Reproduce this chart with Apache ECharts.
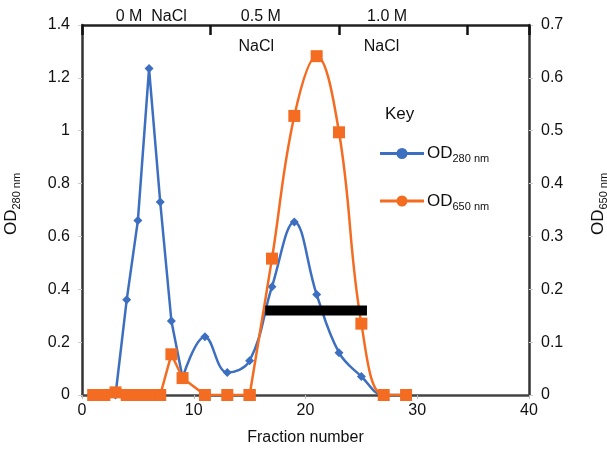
<!DOCTYPE html>
<html>
<head>
<meta charset="utf-8">
<script src="https://cdn.jsdelivr.net/npm/echarts@6/dist/echarts.min.js"></script>
<style>
    html, body { margin: 0; padding: 0; background: #fff; }
    #chart { width: 607px; height: 452px; }
</style>
</head>
<body>
<div id="chart"></div>
<script>
// fraction numbers sampled
var fractions = [1, 2, 3, 4, 5, 6, 7, 8, 9, 11, 13, 15, 17, 19, 21, 23, 25, 27, 29];
// OD 280 nm (left axis)
var od280 = [0, 0, 0, 0.36, 0.66, 1.235, 0.73, 0.28, 0.065, 0.22, 0.085, 0.13, 0.41, 0.655, 0.38, 0.16, 0.07, 0, 0];
// OD 650 nm (right axis)
var od650 = [0, 0, 0.005, 0, 0, 0, 0, 0.077, 0.032, 0, 0, 0, 0.258, 0.528, 0.641, 0.497, 0.135, 0, 0];
// pooled fractions bar
var poolRange = [16.4, 25.5];
var poolLevel = 0.32;
// salt gradient labels along the top
var saltTop = ['0 M  NaCl', '0.5 M', '1.0 M'];
var saltTopPos = [6.2, 16, 27.3];
var saltBottom = ['NaCl', 'NaCl'];
var saltBottomPos = [15.6, 26.8];

var BLUE = '#3d6fc1';
var ORANGE = '#f36c21';
var FONT = 'Liberation Sans';

function pairs(xs, ys, from, to) {
    var out = [];
    for (var i = from; i <= to; i++) out.push([xs[i], ys[i]]);
    return out;
}

var subRich = {
    a: { fontSize: 17, lineHeight: 22, fontFamily: FONT, color: '#111' },
    b: { fontSize: 11, lineHeight: 12, verticalAlign: 'bottom', fontFamily: FONT, color: '#111' }
};
var axisRich = {
    a: { fontSize: 17, lineHeight: 22, fontFamily: FONT, color: '#111' },
    b: { fontSize: 11, lineHeight: 12, verticalAlign: 'bottom', fontFamily: FONT, color: '#111' }
};

var chart = echarts.init(document.getElementById('chart'));

var legendIcon = 'path://M0,4 L44,4 L44,7 L0,7 Z M16.5,5.5 A5.5,5.5 0 1 1 27.5,5.5 A5.5,5.5 0 1 1 16.5,5.5 Z';

var option = {
    animation: false,
    textStyle: { fontFamily: FONT },
    grid: { left: 82, right: 78, top: 25, bottom: 57, outerBoundsMode: 'none', containLabel: false },
    legend: {
        orient: 'vertical',
        left: 375,
        top: 140,
        itemGap: 28,
        itemWidth: 44,
        itemHeight: 11,
        data: [
            { name: 'OD280', icon: legendIcon, itemStyle: { color: BLUE } },
            { name: 'OD650', icon: legendIcon, itemStyle: { color: ORANGE } }
        ],
        formatter: function (name) {
            return '{a|OD}{b|' + name.slice(2) + ' nm}';
        },
        textStyle: { rich: subRich, padding: [0, 0, 0, -2] }
    },
    xAxis: [{
        type: 'value',
        min: 0, max: 40, interval: 10,
        name: 'Fraction number',
        nameLocation: 'middle',
        nameGap: 35,
        nameTextStyle: { fontSize: 16, color: '#111' },
        axisLine: { onZero: false, lineStyle: { color: '#444', width: 2.5 } },
        axisTick: { length: 4, lineStyle: { color: '#bbb' } },
        axisLabel: { fontSize: 16, color: '#111', margin: 8 },
        splitLine: { show: false }
    }, {
        type: 'value',
        position: 'top',
        min: 0, max: 40, interval: 11.5,
        axisLine: { onZero: false, lineStyle: { color: '#222', width: 2.5 } },
        axisTick: { inside: true, length: 10, lineStyle: { color: '#111', width: 2.5 } },
        axisLabel: { show: false },
        splitLine: { show: false }
    }],
    yAxis: [{
        type: 'value',
        min: 0, max: 1.4, interval: 0.2,
        name: '{a|OD}{b|280 nm}',
        nameLocation: 'middle',
        nameRotate: 90,
        nameGap: 60,
        nameTextStyle: { rich: axisRich, padding: [0, 0, 0, 12] },
        axisLine: { show: true, onZero: false, lineStyle: { color: '#333', width: 2.5 } },
        axisTick: { show: true, length: 4, lineStyle: { color: '#ccc' } },
        axisLabel: { fontSize: 16, color: '#111', margin: 12 },
        splitLine: { show: false }
    }, {
        type: 'value',
        min: 0, max: 0.7, interval: 0.1,
        position: 'right',
        name: '{a|OD}{b|650 nm}',
        nameLocation: 'middle',
        nameRotate: 90,
        nameGap: 58,
        nameTextStyle: { rich: axisRich, padding: [0, 0, 0, 12] },
        axisLine: { show: true, onZero: false, lineStyle: { color: '#333', width: 2.5 } },
        axisTick: { show: true, length: 4, lineStyle: { color: '#ccc' } },
        axisLabel: { fontSize: 16, color: '#111', margin: 12 },
        splitLine: { show: false }
    }],
    series: [{
        name: 'OD280',
        type: 'line',
        yAxisIndex: 0,
        data: pairs(fractions, od280, 0, 8),
        symbol: 'diamond', symbolSize: 9,
        itemStyle: { color: BLUE },
        lineStyle: { color: BLUE, width: 2.5 },
        z: 3
    }, {
        name: 'OD280b',
        type: 'line',
        yAxisIndex: 0,
        data: pairs(fractions, od280, 8, fractions.length - 1),
        smooth: 0.4,
        symbol: 'diamond', symbolSize: 9,
        itemStyle: { color: BLUE },
        lineStyle: { color: BLUE, width: 2.5 },
        z: 3
    }, {
        name: 'OD650',
        type: 'line',
        yAxisIndex: 1,
        data: pairs(fractions, od650, 0, 11),
        symbol: 'rect', symbolSize: 12,
        itemStyle: { color: ORANGE },
        lineStyle: { color: ORANGE, width: 2.5 },
        z: 4
    }, {
        name: 'OD650b',
        type: 'line',
        yAxisIndex: 1,
        data: pairs(fractions, od650, 11, fractions.length - 1),
        smooth: 0.4,
        symbol: 'rect', symbolSize: 12,
        itemStyle: { color: ORANGE },
        lineStyle: { color: ORANGE, width: 2.5 },
        z: 4
    }, {
        name: 'pool',
        type: 'line',
        yAxisIndex: 0,
        data: [[poolRange[0], poolLevel], [poolRange[1], poolLevel]],
        symbol: 'none',
        lineStyle: { color: '#000', width: 10, cap: 'butt' },
        z: 5
    }]
};
chart.setOption(option);

// salt gradient annotations, placed by fraction number
var graphics = [{
    type: 'text', left: 385, top: 106,
    style: { text: 'Key', fontSize: 17, fontFamily: FONT, fill: '#111' }
}];
saltTop.forEach(function (t, i) {
    var x = chart.convertToPixel({ xAxisIndex: 0 }, saltTopPos[i]);
    graphics.push({
        type: 'text', x: x, y: 17,
        style: { text: t, fontSize: 16, fontFamily: FONT, fill: '#111', align: 'center', verticalAlign: 'middle' }
    });
});
saltBottom.forEach(function (t, i) {
    var x = chart.convertToPixel({ xAxisIndex: 0 }, saltBottomPos[i]);
    graphics.push({
        type: 'text', x: x, y: 47,
        style: { text: t, fontSize: 16, fontFamily: FONT, fill: '#111', align: 'center', verticalAlign: 'middle' }
    });
});
chart.setOption({ graphic: graphics });
</script>
</body>
</html>
